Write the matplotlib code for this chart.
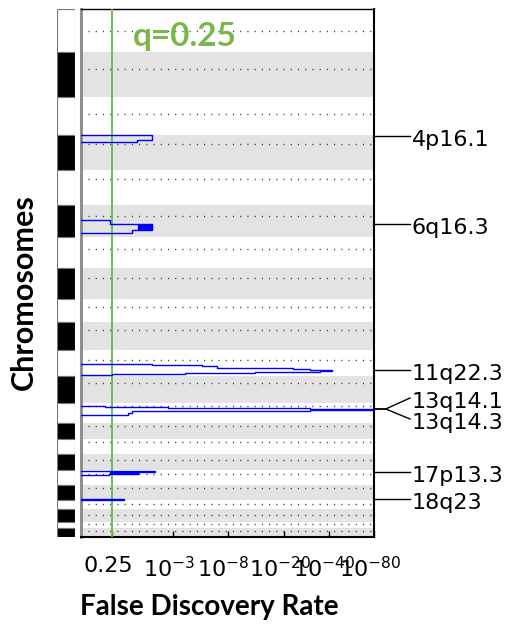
import numpy as np
import matplotlib.pyplot as plt
from matplotlib.transforms import blended_transform_factory, ScaledTranslation

# chromosome sizes in plot units (chr1..chr22, top to bottom)
chrom_sizes = [43, 45, 38, 35, 35, 32, 31, 31, 23, 28, 26, 27, 20, 16, 15, 16, 15, 15, 9, 13, 6, 9]
# centromere position as a fraction of each chromosome
centromere_frac = [0.502, 0.384, 0.459, 0.264, 0.267, 0.357, 0.377, 0.312, 0.348, 0.296, 0.398,
                   0.267, 0.156, 0.164, 0.184, 0.405, 0.296, 0.221, 0.449, 0.437, 0.275, 0.288]

# -log10(q) step profiles around each significant region
# breakpoints (genome position) and the value held between them
peak_breaks = [
    [126, 131, 133],
    [211, 215, 215.5, 216, 216.5, 217, 217.5, 218, 218.5, 219, 219.5, 220, 220.5, 221, 224],
    [355, 356, 357, 359, 360, 361, 362, 363, 364, 365, 366],
    [396.7, 397.7, 399, 400, 401, 401.7, 402.3, 403.6, 405.7],
    [462, 462.7, 463.1, 463.5, 463.9, 464.3, 464.7, 466],
    [489.5, 490.2, 491],
]
peak_values = [
    [1.90, 1.32],
    [0.55, 1.90, 1.35, 1.90, 1.35, 1.90, 1.35, 1.90, 1.35, 1.90, 1.35, 1.90, 1.35, 1.15],
    [1.90, 5.14, 6.69, 23.0, 30.0, 42.2, 35.1, 12.6, 3.76, 0.59],
    [0.43, 2.69, 30.0, 90.0, 30.0, 3.9, 1.15, 1.02],
    [2.03, 1.35, 0.55, 1.35, 0.55, 1.35, 0.52],
    [0.29, 0.91],
]

peak_labels = ['4p16.1', '6q16.3', '11q22.3', '13q14.1', '13q14.3', '17p13.3', '18q23']
label_peak_y = [127, 215, 361, 400, 400, 463, 490]
label_text_y = [127, 215, 361, 389, 410, 463, 490]

q_cut = 0.25
tick_values = [-np.log10(0.25), 3, 8, 20, 40, 80]
tick_labels = ['0.25', '$10^{-3}$', '$10^{-8}$', '$10^{-20}$', '$10^{-40}$', '$10^{-80}$']


def fwd(v):
    return np.log10(1 + np.maximum(v, -0.999))


def inv(u):
    return 10 ** u - 1


def step_path(breaks, values):
    xs = [0]
    ys = [breaks[0]]
    for i, v in enumerate(values):
        xs += [v, v]
        ys += [breaks[i], breaks[i + 1]]
    xs.append(0)
    ys.append(breaks[-1])
    return xs, ys


fig = plt.figure(figsize=(5.06, 6.26), dpi=100)
ax = fig.add_axes([81 / 506, 1 - 537 / 626, 293 / 506, 528 / 626])
ax_c = fig.add_axes([57 / 506, 1 - 537 / 626, 18 / 506, 528 / 626])

total = sum(chrom_sizes)
starts = np.concatenate([[0], np.cumsum(chrom_sizes)[:-1]])

# chromosome bar
ax_c.barh(starts + np.array(chrom_sizes) / 2, 1, height=chrom_sizes,
          color=['white' if i % 2 == 0 else 'black' for i in range(len(chrom_sizes))],
          edgecolor='#777777', linewidth=0.8)
ax_c.set_xlim(0, 1)
ax_c.set_ylim(total, 0)
ax_c.axis('off')

# main panel
ax.set_xscale('function', functions=(fwd, inv))
ax.set_xlim(0, 80)
ax.set_ylim(total, 0)

for i, (s, size) in enumerate(zip(starts, chrom_sizes)):
    if i % 2 == 1:
        ax.axhspan(s, s + size, color='#e3e3e3', lw=0, zorder=0)
    ax.axhline(s + centromere_frac[i] * size, xmin=0.025, xmax=0.99, color='#333333',
               lw=1, linestyle=(0, (0.8, 4.4)), zorder=1)

ax.axvline(-np.log10(q_cut), color='#6abf4b', lw=1.4, zorder=3)

for b, v in zip(peak_breaks, peak_values):
    xs, ys = step_path(b, v)
    ax.plot(xs, ys, color='#0000ff', lw=1.0, zorder=4)

ax.text(0.177, 0.930, 'q=0.25', transform=ax.transAxes, color='#7ab648',
        fontsize=24, fontweight='bold', family='Lato', va='baseline', ha='left')

ax.set_xticks(tick_values)
ax.set_xticklabels(tick_labels)
ax.minorticks_off()
ax.set_yticks([])
ax.tick_params(axis='x', direction='in', length=4, width=1, labelsize=16, pad=14)
shift = ScaledTranslation(-4 / 100, 0, fig.dpi_scale_trans)
for tl in ax.get_xticklabels():
    tl.set_transform(tl.get_transform() + shift)

for side in ['top', 'right', 'bottom']:
    ax.spines[side].set_color('black')
    ax.spines[side].set_linewidth(1.5)
ax.spines['top'].set_linewidth(1.0)
ax.spines['left'].set_color('#888888')
ax.spines['left'].set_linewidth(2)

# peak annotations on the right
trans = blended_transform_factory(ax.transAxes, ax.transData)
for lab, py, ty in zip(peak_labels, label_peak_y, label_text_y):
    ax.plot([1.0, 1.04, 1.123], [py, py, ty], color='black', lw=1, transform=trans, clip_on=False)
    ax.text(1.128, ty + 4, lab, transform=trans, fontsize=16, va='center', ha='left')

fig.text(24 / 506, 1 - 292 / 626, 'Chromosomes', rotation=90, fontsize=22,
         fontweight='bold', family='Lato', ha='center', va='center')
fig.text(80 / 506, 1 - 615 / 626, 'False Discovery Rate', fontsize=20,
         fontweight='bold', family='Lato', ha='left', va='baseline')

fig.savefig('out.png', dpi=100)
